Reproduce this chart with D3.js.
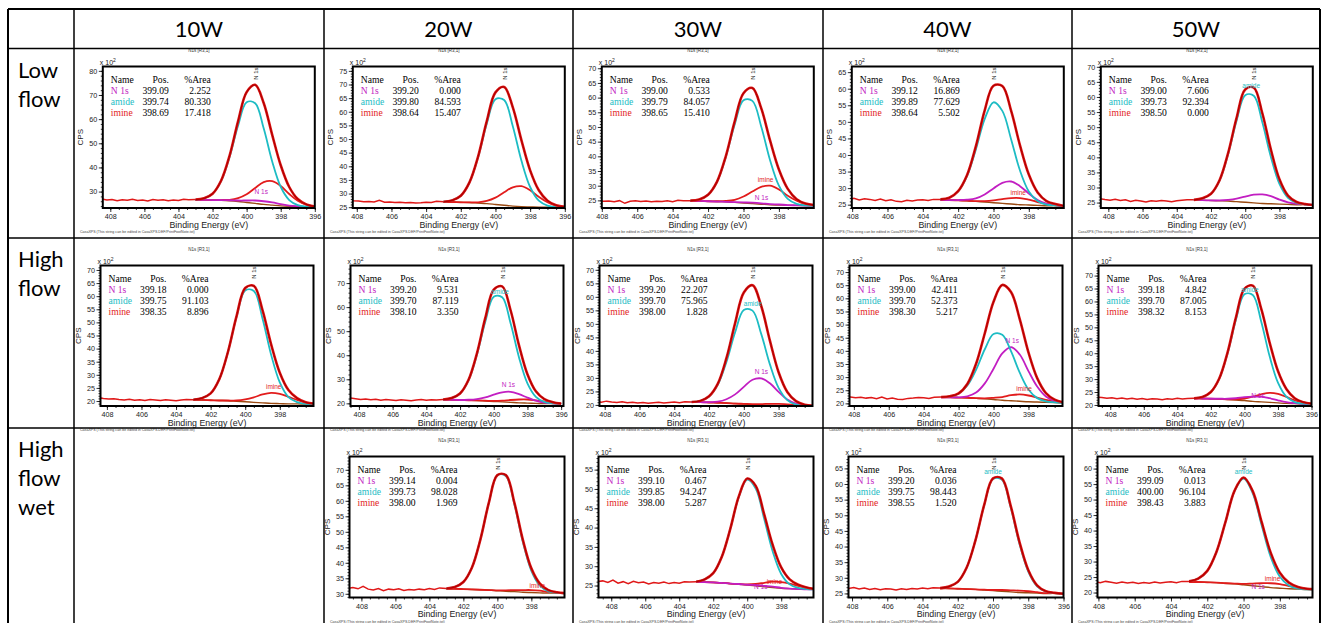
<!DOCTYPE html>
<html>
<head>
<meta charset="utf-8">
<script src="https://cdn.jsdelivr.net/npm/d3@7"></script>
<style>
    body { margin: 0; background: #fff; }
    svg { display: block; }
    .cond { font-family: Lato, "Open Sans", sans-serif; font-size: 22px; fill: #000; }
    .axis text { font-family: "Liberation Sans", Arial, sans-serif; font-size: 7.2px; fill: #222; }
    .axis line { stroke: #000; stroke-width: 0.8; }
    .legend text { font-family: "Liberation Serif", "Times New Roman", serif; font-size: 9.6px; }
    .small { font-family: "Liberation Sans", Arial, sans-serif; }
</style>
</head>
<body>
<div id="chart"></div>
<script>
// ---------- data (CPS values are x 10^2) ----------
const powers = ["10W", "20W", "30W", "40W", "50W"];
const conditions = [["Low", "flow"], ["High", "flow"], ["High", "flow", "wet"]];
const componentNames = ["N 1s", "amide", "imine"];

// energies (eV) where the fitted curves were read
const energyGrid = [403, 402.5, 402, 401.5, 401, 400.5, 400, 399.5, 399, 398.5, 398, 397.5, 397, 396.5, 396];
// energies (eV) of the flat raw-data stretch left of the peak
const noiseGrid = [408.8, 408.5, 408.2, 407.9, 407.6, 407.3, 407.0, 406.7, 406.4, 406.1, 405.8, 405.5, 405.2, 404.9, 404.6, 404.3, 404.0, 403.7, 403.4];

// fit table: [N 1s, amide, imine] -> [Pos., %Area]
const fitLow = [
    [[399.09, 2.252], [399.74, 80.330], [398.69, 17.418]],
    [[399.20, 0.000], [399.80, 84.593], [398.64, 15.407]],
    [[399.00, 0.533], [399.79, 84.057], [398.65, 15.410]],
    [[399.12, 16.869], [399.89, 77.629], [398.64, 5.502]],
    [[399.00, 7.606], [399.73, 92.394], [398.50, 0.000]]
];
const fitHigh = [
    [[399.18, 0.000], [399.75, 91.103], [398.35, 8.896]],
    [[399.20, 9.531], [399.70, 87.119], [398.10, 3.350]],
    [[399.20, 22.207], [399.70, 75.965], [398.00, 1.828]],
    [[399.00, 42.411], [399.70, 52.373], [398.30, 5.217]],
    [[399.18, 4.842], [399.70, 87.005], [398.32, 8.153]]
];
const fitWet = [
    null,
    [[399.14, 0.004], [399.73, 98.028], [398.00, 1.969]],
    [[399.10, 0.467], [399.85, 94.247], [398.00, 5.287]],
    [[399.20, 0.036], [399.75, 98.443], [398.55, 1.520]],
    [[399.09, 0.013], [400.00, 96.104], [398.43, 3.883]]
];

// Shirley background on energyGrid
const backgroundLow = [
    [26.6, 26.6, 26.5, 26.4, 26.2, 25.9, 25.5, 25.1, 24.7, 24.4, 24.1, 23.9, 23.8, 23.7, 23.6],
    [26.9, 26.9, 26.8, 26.7, 26.5, 26.3, 26.0, 25.7, 25.4, 25.2, 25.1, 25.0, 25.0, 24.9, 24.9],
    [24.8, 24.8, 24.7, 24.6, 24.5, 24.3, 24.1, 23.9, 23.7, 23.5, 23.4, 23.3, 23.3, 23.2, 23.2],
    [26.4, 26.4, 26.3, 26.2, 26.0, 25.8, 25.6, 25.4, 25.2, 25.0, 24.9, 24.8, 24.7, 24.7, 24.6],
    [25.8, 25.8, 25.7, 25.6, 25.5, 25.3, 25.1, 24.9, 24.7, 24.6, 24.5, 24.4, 24.3, 24.3, 24.2]
];
const backgroundHigh = [
    [20.4, 20.4, 20.3, 20.2, 20.1, 19.9, 19.7, 19.5, 19.3, 19.1, 19.0, 18.9, 18.9, 18.8, 18.8],
    [21.5, 21.5, 21.4, 21.3, 21.2, 21.0, 20.8, 20.6, 20.4, 20.2, 20.1, 20.0, 19.9, 19.9, 19.8],
    [21.0, 21.0, 20.9, 20.8, 20.7, 20.5, 20.3, 20.1, 19.9, 19.8, 19.7, 19.6, 19.6, 19.6, 19.5],
    [22.3, 22.3, 22.2, 22.1, 21.9, 21.7, 21.5, 21.2, 21.0, 20.8, 20.6, 20.5, 20.4, 20.3, 20.2],
    [22.5, 22.5, 22.4, 22.3, 22.1, 21.9, 21.7, 21.4, 21.2, 21.0, 20.8, 20.6, 20.5, 20.4, 20.3]
];
const backgroundWet = [
    null,
    [31.6, 31.6, 31.5, 31.4, 31.3, 31.2, 31.0, 30.8, 30.7, 30.5, 30.4, 30.3, 30.2, 30.2, 30.1],
    [25.9, 25.9, 25.8, 25.7, 25.5, 25.3, 25.1, 24.9, 24.7, 24.5, 24.3, 24.2, 24.1, 24.0, 24.0],
    [26.6, 26.6, 26.5, 26.4, 26.3, 26.1, 25.9, 25.7, 25.5, 25.3, 25.2, 25.1, 25.0, 25.0, 24.9],
    [23.4, 23.4, 23.3, 23.2, 23.0, 22.8, 22.5, 22.2, 21.9, 21.6, 21.4, 21.2, 21.1, 21.0, 21.0]
];

// component heights above the background on energyGrid
const amideLow = [
    [0.1, 0.6, 2.6, 7.9, 18.1, 31.5, 41.5, 41.5, 31.5, 18.1, 7.9, 2.6, 0.6, 0.1, 0],
    [0.1, 0.6, 2.4, 7.3, 16.8, 29.3, 38.6, 38.6, 29.3, 16.8, 7.3, 2.4, 0.6, 0.1, 0],
    [0.1, 0.5, 2.2, 6.6, 15.2, 26.5, 35.0, 35.0, 26.5, 15.2, 6.6, 2.2, 0.5, 0.1, 0],
    [0.2, 0.7, 2.7, 7.4, 15.6, 25.0, 30.3, 27.9, 19.5, 10.3, 4.1, 1.3, 0.3, 0.1, 0],
    [0.1, 0.6, 2.2, 6.7, 15.5, 26.9, 35.5, 35.5, 26.9, 15.5, 6.7, 2.2, 0.6, 0.1, 0]
];
const n1sLow = [
    [0, 0, 0, 0.1, 0.2, 0.4, 0.8, 1.2, 1.3, 1.1, 0.7, 0.3, 0.1, 0, 0],
    null,
    [0, 0, 0, 0, 0, 0.1, 0.2, 0.3, 0.3, 0.2, 0.2, 0.1, 0, 0, 0],
    [0, 0, 0.1, 0.3, 0.9, 2.3, 4.3, 6.2, 6.8, 5.6, 3.5, 1.6, 0.6, 0.2, 0],
    [0, 0, 0, 0.1, 0.4, 1.0, 1.9, 2.7, 3.0, 2.5, 1.5, 0.7, 0.3, 0.1, 0]
];
const imineLow = [
    [0, 0, 0, 0.1, 0.4, 1.4, 3.4, 6.4, 9.2, 9.9, 8.2, 5.1, 2.4, 0.9, 0.2],
    [0, 0, 0, 0.1, 0.3, 1.0, 2.5, 4.8, 6.9, 7.5, 6.1, 3.8, 1.8, 0.7, 0.2],
    [0, 0, 0, 0.1, 0.3, 0.9, 2.2, 4.1, 5.9, 6.5, 5.3, 3.3, 1.6, 0.6, 0.2],
    [0, 0, 0, 0, 0.1, 0.3, 0.7, 1.3, 1.8, 2.0, 1.6, 1.0, 0.5, 0.2, 0],
    null
];
const amideHigh = [
    [0.1, 0.7, 2.6, 8.1, 18.5, 32.2, 42.5, 42.5, 32.2, 18.5, 8.1, 2.6, 0.7, 0.1, 0],
    [0.1, 0.7, 2.7, 8.2, 18.9, 32.9, 43.5, 43.5, 32.9, 18.9, 8.2, 2.7, 0.7, 0.1, 0],
    [0.1, 0.5, 2.2, 6.6, 15.2, 26.4, 34.8, 34.8, 26.4, 15.2, 6.6, 2.2, 0.5, 0.1, 0],
    [0.1, 0.4, 1.5, 4.7, 10.9, 18.9, 24.9, 24.9, 18.9, 10.9, 4.7, 1.5, 0.4, 0.1, 0],
    [0.1, 0.6, 2.6, 7.8, 17.9, 31.1, 41.1, 41.1, 31.1, 17.9, 7.8, 2.6, 0.6, 0.1, 0]
];
const n1sHigh = [
    null,
    [0, 0, 0, 0.2, 0.6, 1.5, 2.8, 4.0, 4.4, 3.6, 2.3, 1.1, 0.4, 0.1, 0],
    [0, 0, 0.1, 0.4, 1.4, 3.4, 6.4, 9.2, 9.9, 8.2, 5.1, 2.4, 0.9, 0.2, 0.1],
    [0, 0, 0.1, 0.6, 2.2, 5.9, 11.7, 17.8, 20.4, 17.8, 11.7, 5.9, 2.2, 0.6, 0.1],
    [0, 0, 0, 0.1, 0.3, 0.7, 1.3, 1.8, 2.0, 1.6, 1.0, 0.5, 0.2, 0, 0]
];
const imineHigh = [
    [0, 0, 0, 0, 0.1, 0.3, 0.9, 1.9, 3.2, 4.0, 3.7, 2.7, 1.5, 0.6, 0.2],
    [0, 0, 0, 0, 0, 0.1, 0.2, 0.5, 1.0, 1.4, 1.5, 1.2, 0.8, 0.4, 0.1],
    [0, 0, 0, 0, 0, 0, 0.1, 0.2, 0.4, 0.6, 0.7, 0.6, 0.4, 0.2, 0.1],
    [0, 0, 0, 0, 0.1, 0.2, 0.6, 1.2, 2.1, 2.6, 2.4, 1.7, 0.9, 0.4, 0.1],
    [0, 0, 0, 0, 0.1, 0.3, 0.8, 1.8, 2.9, 3.7, 3.5, 2.5, 1.3, 0.6, 0.2]
];
const amideWet = [
    null,
    [0.1, 0.6, 2.3, 7.0, 16.2, 28.2, 37.2, 37.2, 28.2, 16.2, 7.0, 2.3, 0.6, 0.1, 0],
    [0.1, 0.7, 2.4, 6.7, 14.1, 22.5, 27.3, 25.2, 17.5, 9.3, 3.7, 1.1, 0.3, 0.1, 0],
    [0.1, 0.6, 2.2, 6.8, 15.6, 27.1, 35.7, 35.7, 27.1, 15.6, 6.8, 2.2, 0.6, 0.1, 0],
    [0.2, 1.1, 3.7, 9.8, 19.7, 29.9, 34.3, 29.9, 19.7, 9.8, 3.7, 1.1, 0.2, 0, 0]
];
const n1sWet = [
    null,
    null,
    [0, 0, 0, 0, 0, 0.1, 0.1, 0.2, 0.2, 0.2, 0.1, 0, 0, 0, 0],
    null,
    null
];
const imineWet = [
    null,
    [0, 0, 0, 0, 0, 0, 0.1, 0.3, 0.5, 0.7, 0.8, 0.7, 0.4, 0.2, 0.1],
    [0, 0, 0, 0, 0, 0.1, 0.2, 0.5, 1.0, 1.5, 1.6, 1.3, 0.8, 0.4, 0.1],
    [0, 0, 0, 0, 0, 0.1, 0.2, 0.4, 0.5, 0.6, 0.5, 0.3, 0.1, 0.1, 0],
    [0, 0, 0, 0, 0, 0.1, 0.3, 0.7, 1.1, 1.4, 1.3, 0.9, 0.5, 0.2, 0.1]
];

// raw counts on noiseGrid
const rawLow = [
    [26.7, 26.9, 26.5, 26.7, 26.2, 26.6, 26.4, 26.8, 26.3, 26.5, 26.1, 26.7, 26.4, 26.6, 26.2, 26.5, 26.3, 26.8, 26.6],
    [27.8, 27.6, 27.4, 27.3, 27.0, 27.1, 26.9, 27.5, 26.8, 26.9, 26.7, 26.8, 26.6, 26.7, 26.5, 26.6, 26.8, 26.7, 27.2],
    [25.0, 25.1, 24.9, 24.7, 24.8, 24.5, 24.9, 24.0, 24.7, 24.9, 24.6, 24.8, 24.5, 24.7, 24.6, 24.9, 24.5, 25.0, 24.9],
    [26.6, 26.7, 26.5, 26.9, 26.4, 26.8, 26.6, 26.3, 26.7, 26.2, 26.5, 26.0, 25.9, 26.3, 26.1, 26.4, 26.5, 26.3, 26.6],
    [26.4, 26.3, 26.0, 25.8, 26.1, 25.7, 25.9, 25.4, 25.8, 25.5, 25.2, 25.6, 25.4, 25.7, 25.5, 25.3, 25.6, 25.8, 25.9]
];
const rawHigh = [
    [21.5, 21.3, 21.0, 20.8, 20.9, 20.6, 20.4, 20.7, 20.3, 20.5, 20.2, 20.6, 20.4, 20.2, 20.5, 20.3, 20.1, 20.4, 20.6],
    [22.3, 22.2, 21.9, 21.6, 21.8, 21.5, 21.7, 21.3, 21.6, 21.4, 21.2, 21.5, 21.3, 21.1, 21.4, 21.6, 21.3, 21.5, 21.4],
    [21.1, 21.3, 21.0, 21.4, 21.1, 20.9, 21.2, 20.8, 21.0, 20.7, 20.9, 20.6, 20.8, 21.0, 20.7, 20.9, 21.1, 20.8, 21.2],
    [22.7, 22.6, 22.4, 22.1, 22.3, 22.0, 22.2, 21.8, 22.4, 21.7, 22.0, 21.6, 21.5, 21.9, 22.0, 22.2, 22.1, 21.9, 22.3],
    [23.0, 22.9, 22.6, 22.8, 22.4, 22.7, 22.3, 22.6, 22.2, 22.5, 22.1, 22.4, 22.3, 22.0, 22.4, 22.2, 22.6, 22.3, 22.5]
];
const rawWet = [
    null,
    [31.7, 32.0, 31.6, 32.4, 31.5, 31.2, 31.7, 31.0, 31.5, 31.3, 31.6, 31.1, 31.4, 31.2, 31.5, 31.3, 31.7, 31.4, 31.9],
    [26.0, 26.2, 25.8, 26.4, 25.6, 26.0, 25.5, 26.1, 25.7, 25.9, 25.4, 25.8, 25.6, 25.9, 25.5, 25.8, 25.6, 26.0, 25.9],
    [26.8, 27.0, 26.6, 26.9, 26.4, 26.7, 26.3, 26.6, 26.2, 26.5, 26.4, 26.1, 26.5, 26.3, 26.6, 26.4, 26.7, 26.5, 26.8],
    [23.6, 23.8, 23.5, 23.2, 23.6, 23.3, 23.0, 23.4, 23.1, 23.3, 22.9, 23.2, 23.0, 23.4, 23.1, 23.3, 23.5, 23.2, 23.6]
];

// axis ranges (eV left->right, CPS x10^2) and major y step
const xDomainLow = [[408.44, 396], [408.23, 396], [408.0, 396.03], [408.02, 396.02], [408.44, 396.05]];
const yDomainLow = [[23.2, 81.8], [24.7, 76.6], [22.4, 70.6], [24.0, 66.7], [23.2, 70.1]];
const yStepLow = [10, 5, 5, 5, 5];
const xDomainHigh = [[408.37, 396.05], [408.5, 395.86], [408.3, 396.05], [408.25, 396.05], [408.7, 396]];
const yDomainHigh = [[18.1, 71.7], [18.9, 77.3], [19.6, 71.6], [19.0, 72.5], [19.6, 73.9]];
const yStepHigh = [5, 10, 5, 5, 5];
const xDomainWet = [null, [408.7, 396.05], [408.75, 396.1], [408.2, 396], [408.05, 396.2]];
const yDomainWet = [null, [28.8, 74.3], [21.9, 58.4], [23.7, 68.8], [18.4, 63.9]];
const yStepWet = [null, 5, 5, 5, 5];

// component tags drawn inside the plots: [name, eV, CPS]
const tagsLow = [
    [["N 1s", 399.14, 29.8]],
    [],
    [["imine", 398.75, 32.1], ["N 1s", 398.98, 25.9]],
    [["imine", 398.6, 28.6]],
    [["amide", 399.65, 63.6]]
];
const tagsHigh = [
    [["imine", 398.35, 25.5]],
    [["amide", 399.63, 66.5], ["N 1s", 399.13, 27.6]],
    [["amide", 399.49, 57.4], ["N 1s", 398.99, 32.2]],
    [["N 1s", 398.93, 44.0], ["imine", 398.25, 25.7]],
    [["amide", 399.68, 64.5], ["N 1s", 399.19, 23.6]]
];
const tagsWet = [
    null,
    [["imine", 397.65, 32.6]],
    [["N 1s", 399.2, 24.7], ["imine", 398.4, 26.0]],
    [["amide", 400.0, 64.0]],
    [["amide", 400.0, 59.0], ["N 1s", 399.2, 22.0], ["imine", 398.4, 24.3]]
];

// ---------- layout ----------
const WIDTH = 1328, HEIGHT = 623;
const COL_X = [8, 74, 324, 573, 823, 1072, 1320];
const ROW_Y = [9, 48.5, 238, 428];
const FRAME = [
    { l: 28.8, t: 66.5, w: 212, h: 141.5 },
    { l: 26.5, t: 265.5, w: 213, h: 140.5 },
    { l: 25.5, t: 456.5, w: 215, h: 141 }
];
const COLORS = {
    raw: "#e01818", envelope: "#b00000", background: "#9a4a12",
    "N 1s": "#c21ec2", amide: "#1dbcc4", imine: "#e21c1c"
};

class SpectrumPanel {
    constructor(_parent, _frame, _spec) {
        this.parent = _parent;
        this.frame = _frame;
        this.spec = _spec;

        this.initVis();
    }

    initVis() {
        const vis = this;
        const f = vis.frame, s = vis.spec;

        vis.x = d3.scaleLinear().domain(s.xDomain).range([0, f.w]);
        vis.y = d3.scaleLinear().domain(s.yDomain).range([f.h, 0]);

        vis.g = vis.parent.append("g")
            .attr("transform", `translate(${f.x}, ${f.y})`);

        // CasaXPS header / footnote
        vis.g.append("text").attr("class", "small")
            .attr("x", f.cellX + 125 - f.x).attr("y", -15)
            .attr("text-anchor", "middle").attr("font-size", 4.5).attr("fill", "#333")
            .text("N1s [R3,1]");
        vis.g.append("text").attr("class", "small")
            .attr("x", f.cellX + 6 - f.x).attr("y", f.h + 25)
            .attr("font-size", 3.6).attr("fill", "#444")
            .text("CasaXPS (This string can be edited in CasaXPS.DEF/PrintFootNote.txt)");

        vis.g.append("clipPath").attr("id", `clip-${s.id}`)
            .append("rect").attr("width", f.w).attr("height", f.h);
        const plot = vis.g.append("g").attr("clip-path", `url(#clip-${s.id})`);

        const smooth = d3.line()
            .x(d => vis.x(d[0])).y(d => vis.y(d[1]))
            .curve(d3.curveCatmullRom.alpha(0.5));
        const jagged = d3.line()
            .x(d => vis.x(d[0])).y(d => vis.y(d[1]));

        const bgPts = energyGrid.map((e, i) => [e, s.bg[i]]);
        const envelope = energyGrid.map((e, i) => [e,
            s.bg[i] + s.amide[i] + (s.n1s ? s.n1s[i] : 0) + (s.imine ? s.imine[i] : 0)]);
        const raw = noiseGrid.map((e, i) => [e, s.raw[i]]).concat([envelope[0]]);

        plot.append("path").attr("d", jagged(raw))
            .attr("fill", "none").attr("stroke", COLORS.raw).attr("stroke-width", 1.5);
        plot.append("path").attr("d", smooth(bgPts))
            .attr("fill", "none").attr("stroke", COLORS.background).attr("stroke-width", 1.4);

        [["imine", s.imine], ["N 1s", s.n1s], ["amide", s.amide]].forEach(([name, vals]) => {
            if (!vals) return;
            plot.append("path")
                .attr("d", smooth(energyGrid.map((e, i) => [e, s.bg[i] + vals[i]])))
                .attr("fill", "none").attr("stroke", COLORS[name]).attr("stroke-width", 1.8);
        });

        plot.append("path").attr("d", smooth(envelope))
            .attr("fill", "none").attr("stroke", COLORS.raw).attr("stroke-width", 2.6);
        plot.append("path").attr("d", smooth(envelope))
            .attr("fill", "none").attr("stroke", COLORS.envelope).attr("stroke-width", 1.2);

        // component tags
        s.tags.forEach(([name, e, c]) => {
            vis.g.append("text").attr("class", "small")
                .attr("x", vis.x(e)).attr("y", vis.y(c)).attr("dy", "0.35em")
                .attr("text-anchor", "middle").attr("font-size", 6.5)
                .attr("fill", COLORS[name]).text(name);
        });

        // vertical peak marker
        const iMax = d3.maxIndex(envelope, d => d[1]);
        vis.g.append("text").attr("class", "small")
            .attr("transform", `translate(${vis.x(envelope[iMax][0]) + 2.5}, 1) rotate(-90)`)
            .attr("text-anchor", "end").attr("font-size", 6).attr("fill", "#222")
            .text("N 1s");

        // axes
        const [y0, y1] = s.yDomain;
        const minor = s.yStep === 10 ? 2 : 1;
        const yMajor = d3.range(Math.ceil(y0 / s.yStep) * s.yStep, y1 + 1e-6, s.yStep);
        const yMinor = d3.range(Math.ceil(y0 / minor) * minor, y1 + 1e-6, minor);
        const xLo = Math.min(...s.xDomain), xHi = Math.max(...s.xDomain);
        const xMajor = d3.range(396, 410, 2).filter(v => v >= xLo - 1e-6 && v <= xHi + 1e-6);
        const xMinor = d3.range(790, 820).map(v => v / 2).filter(v => v >= xLo && v <= xHi);

        vis.g.append("g").attr("class", "axis")
            .call(d3.axisLeft(vis.y).tickValues(yMinor).tickSize(2).tickFormat(""))
            .call(g => g.select(".domain").remove());
        vis.g.append("g").attr("class", "axis")
            .call(d3.axisLeft(vis.y).tickValues(yMajor).tickSize(4).tickPadding(1.5).tickFormat(d3.format("d")))
            .call(g => g.select(".domain").remove());
        vis.g.append("g").attr("class", "axis")
            .attr("transform", `translate(0, ${f.h})`)
            .call(d3.axisBottom(vis.x).tickValues(xMinor).tickSize(2).tickFormat(""))
            .call(g => g.select(".domain").remove());
        vis.g.append("g").attr("class", "axis")
            .attr("transform", `translate(0, ${f.h})`)
            .call(d3.axisBottom(vis.x).tickValues(xMajor).tickSize(4).tickPadding(2).tickFormat(d3.format("d")))
            .call(g => g.select(".domain").remove());

        vis.g.append("rect").attr("width", f.w).attr("height", f.h)
            .attr("fill", "none").attr("stroke", "#000").attr("stroke-width", 2);

        // axis titles
        const mult = vis.g.append("text").attr("class", "small")
            .attr("x", -3).attr("y", -1.5).attr("font-size", 7).attr("fill", "#222");
        mult.append("tspan").text("x 10");
        mult.append("tspan").attr("dy", -3).attr("font-size", 5).text("2");
        vis.g.append("text").attr("class", "small")
            .attr("transform", `translate(-20, ${f.h / 2}) rotate(-90)`)
            .attr("text-anchor", "middle").attr("font-size", 8).attr("fill", "#222")
            .text("CPS");
        vis.g.append("text").attr("class", "small")
            .attr("x", f.w / 2).attr("y", f.h + 19.5)
            .attr("text-anchor", "middle").attr("font-size", 8.8).attr("fill", "#222")
            .text("Binding Energy (eV)");

        // fit table
        const legend = vis.g.append("g").attr("class", "legend")
            .attr("transform", "translate(8, 16)");
        const cols = [{ x: 0, a: "start" }, { x: 58, a: "end" }, { x: 100, a: "end" }];
        [["Name", "Pos.", "%Area"]].concat(componentNames.map((n, i) =>
            [n, s.fit[i][0].toFixed(2), s.fit[i][1].toFixed(3)]))
            .forEach((row, r) => {
                row.forEach((t, c) => {
                    legend.append("text")
                        .attr("x", cols[c].x).attr("y", r * 11)
                        .attr("text-anchor", cols[c].a)
                        .attr("fill", r > 0 && c === 0 ? COLORS[t] : "#000")
                        .text(t);
                });
            });
    }
}

// ---------- page ----------
const svg = d3.select("#chart").append("svg")
    .attr("width", WIDTH).attr("height", HEIGHT);
svg.append("rect").attr("width", WIDTH).attr("height", HEIGHT).attr("fill", "#fff");

const sets = [
    { fit: fitLow, bg: backgroundLow, amide: amideLow, n1s: n1sLow, imine: imineLow, raw: rawLow,
      xDom: xDomainLow, yDom: yDomainLow, yStep: yStepLow, tags: tagsLow },
    { fit: fitHigh, bg: backgroundHigh, amide: amideHigh, n1s: n1sHigh, imine: imineHigh, raw: rawHigh,
      xDom: xDomainHigh, yDom: yDomainHigh, yStep: yStepHigh, tags: tagsHigh },
    { fit: fitWet, bg: backgroundWet, amide: amideWet, n1s: n1sWet, imine: imineWet, raw: rawWet,
      xDom: xDomainWet, yDom: yDomainWet, yStep: yStepWet, tags: tagsWet }
];

sets.forEach((set, r) => {
    powers.forEach((p, c) => {
        if (!set.bg[c]) return;
        const fr = FRAME[r];
        new SpectrumPanel(svg, {
            x: COL_X[c + 1] + fr.l, y: fr.t, w: fr.w, h: fr.h, cellX: COL_X[c + 1]
        }, {
            id: `${r}-${c}`, fit: set.fit[c], bg: set.bg[c], amide: set.amide[c],
            n1s: set.n1s[c], imine: set.imine[c], raw: set.raw[c],
            xDomain: set.xDom[c], yDomain: set.yDom[c], yStep: set.yStep[c], tags: set.tags[c]
        });
    });
});

// table grid on top
const grid = svg.append("g").attr("stroke", "#000");
COL_X.forEach((x, i) => grid.append("line")
    .attr("x1", x).attr("x2", x).attr("y1", ROW_Y[0]).attr("y2", HEIGHT + 5)
    .attr("stroke-width", i === 0 || i === COL_X.length - 1 ? 2 : 1.5));
ROW_Y.forEach((y, i) => grid.append("line")
    .attr("x1", COL_X[0]).attr("x2", COL_X[COL_X.length - 1]).attr("y1", y).attr("y2", y)
    .attr("stroke-width", i === 0 ? 2 : 1.5));

// headers
svg.selectAll(".power").data(powers).join("text")
    .attr("class", "cond")
    .attr("x", (d, i) => (COL_X[i + 1] + COL_X[i + 2]) / 2)
    .attr("y", 37)
    .attr("text-anchor", "middle")
    .text(d => d);

conditions.forEach((lines, r) => {
    const t = svg.append("text").attr("class", "cond")
        .attr("x", 18).attr("y", ROW_Y[r + 1] + 29);
    lines.forEach((ln, k) => t.append("tspan")
        .attr("x", 18).attr("dy", k === 0 ? 0 : 29).text(ln));
});
</script>
</body>
</html>
